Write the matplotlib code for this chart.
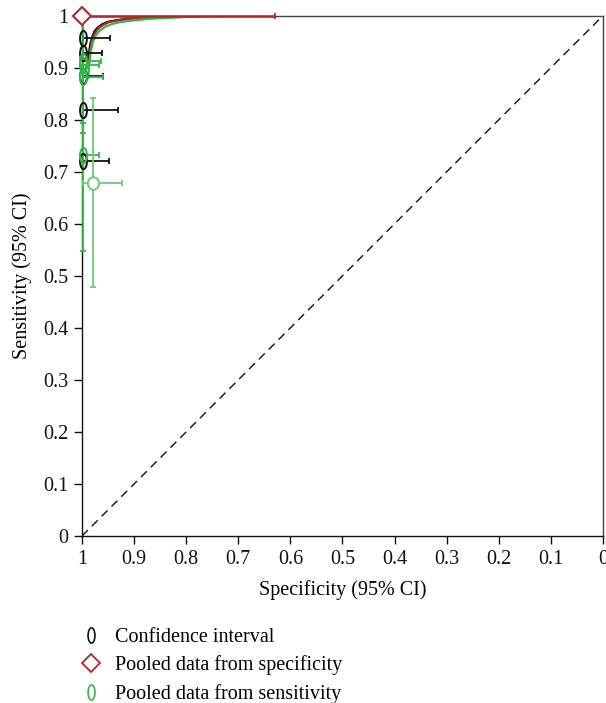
import numpy as np
import matplotlib
matplotlib.use("Agg")
import matplotlib.pyplot as plt
from matplotlib.path import Path
from matplotlib.transforms import Affine2D
from matplotlib.lines import Line2D

plt.rcParams['font.family'] = ['Liberation Serif', 'DejaVu Serif']

# ---- data ----
tick_vals = [1, 0.9, 0.8, 0.7, 0.6, 0.5, 0.4, 0.3, 0.2, 0.1, 0]
tick_labels = ["1", "0.9", "0.8", "0.7", "0.6", "0.5", "0.4", "0.3", "0.2", "0.1", "0"]

# study confidence intervals (black)
ci_spec = [0.999, 0.999, 0.999, 0.999, 0.999]
ci_sens = [0.958, 0.929, 0.885, 0.819, 0.721]
ci_spec_lo = [0.947, 0.962, 0.960, 0.931, 0.949]

# pooled data from sensitivity (green)
gs_spec = [0.999, 0.999, 0.999, 0.999]
gs_sens = [0.912, 0.905, 0.882, 0.732]
gs_spec_lo = [0.963, 0.968, 0.960, 0.967]
gs_sens_lo = [0.793, 0.774, 0.548, 0.732]
gs_sens_hi = [0.912, 0.905, 1.0, 0.732]

# large green point
big_spec, big_sens = 0.978, 0.679
big_spec_lo, big_spec_hi = 0.923, 0.999
big_sens_lo, big_sens_hi = 0.479, 0.841

# pooled data from specificity (red)
red_spec, red_sens = 1.0, 1.0
red_spec_lo = 0.63

# SROC curves
blk_curve_spec = [0.989, 0.987, 0.984, 0.980, 0.976, 0.970, 0.962, 0.951, 0.935, 0.915, 0.887, 0.850, 0.822, 0.780, 0.700]
blk_curve_sens = [0.902, 0.925, 0.946, 0.960, 0.970, 0.977, 0.983, 0.988, 0.991, 0.994, 0.996, 0.998, 0.999, 0.9995, 1.0]
red_curve_spec = [0.987, 0.985, 0.982, 0.978, 0.973, 0.967, 0.958, 0.947, 0.930, 0.910, 0.880, 0.845, 0.815, 0.770, 0.690]
red_curve_sens = [0.902, 0.925, 0.946, 0.960, 0.970, 0.977, 0.983, 0.988, 0.991, 0.994, 0.996, 0.998, 0.999, 0.9995, 1.0]
grn_curve_spec = [0.988, 0.986, 0.983, 0.979, 0.973, 0.965, 0.955, 0.942, 0.925, 0.900, 0.870, 0.830, 0.790, 0.740, 0.700]
grn_curve_sens = [0.880, 0.908, 0.932, 0.950, 0.963, 0.972, 0.979, 0.984, 0.988, 0.991, 0.994, 0.996, 0.998, 0.999, 1.0]

# ---- colors ----
BLACK = "#111111"
RED = "#b3262b"
GREEN = "#35b54a"
LGREEN = "#6ccb7a"
FS = 14.5

# ellipse marker
ell = Path(Affine2D().scale(0.45, 1.0).transform(Path.unit_circle().vertices), Path.unit_circle().codes)
ell_big = Path(Affine2D().scale(0.9, 1.0).transform(Path.unit_circle().vertices), Path.unit_circle().codes)

fig = plt.figure(figsize=(6.06, 7.03), dpi=100)
ax = fig.add_axes([0.1353, 0.2376, 0.8597, 0.7401])

ax.plot([1, 0], [0, 1], ls=(0, (6, 4)), color=BLACK, lw=1.0)

# curves
ax.plot(blk_curve_spec, blk_curve_sens, color=BLACK, lw=1.6, zorder=3)
ax.plot(red_curve_spec, red_curve_sens, color=RED, lw=1.6, zorder=3)
ax.plot(grn_curve_spec, grn_curve_sens, color=GREEN, lw=1.6, zorder=3)

# black CI (lower specificity lies to the right on the inverted axis)
ci_spec_a = np.array(ci_spec)
ax.errorbar(ci_spec, ci_sens, xerr=[ci_spec_a - np.array(ci_spec_lo), np.zeros(len(ci_spec))],
            fmt='none', ecolor=BLACK, elinewidth=1.3, capsize=2, capthick=1.3, zorder=4, clip_on=False)
ax.plot(ci_spec, ci_sens, ls='none', marker=ell, ms=11, mfc='none', mec=BLACK, mew=1.4, zorder=5, clip_on=False)

# green sensitivity
gs_spec_a = np.array(gs_spec)
gs_sens_a = np.array(gs_sens)
ax.errorbar(gs_spec, gs_sens,
            xerr=[gs_spec_a - np.array(gs_spec_lo), np.zeros(len(gs_spec))],
            yerr=[gs_sens_a - np.array(gs_sens_lo), np.array(gs_sens_hi) - gs_sens_a],
            fmt='none', ecolor=GREEN, elinewidth=1.3, capsize=2, capthick=1.3, zorder=4, clip_on=False)
ax.plot(gs_spec, gs_sens, ls='none', marker=ell, ms=11, mfc='none', mec=GREEN, mew=1.4, zorder=5, clip_on=False)

ax.errorbar([big_spec], [big_sens],
            xerr=[[big_spec - big_spec_lo], [big_spec_hi - big_spec]],
            yerr=[[big_sens - big_sens_lo], [big_sens_hi - big_sens]],
            fmt='none', ecolor=LGREEN, elinewidth=1.3, capsize=2, capthick=1.3, zorder=4)
ax.plot([big_spec], [big_sens], ls='none', marker=ell_big, ms=9, mfc='white', mec=LGREEN, mew=1.4, zorder=5)

# red pooled specificity
ax.errorbar([red_spec], [red_sens], xerr=[[red_spec - red_spec_lo], [0]],
            fmt='none', ecolor=RED, elinewidth=1.8, capsize=2, capthick=1.3, zorder=6, clip_on=False)
ax.plot([red_spec], [red_sens], ls='none', marker='D', ms=9.5, mfc='white', mec=RED, mew=1.5, zorder=7, clip_on=False)

ax.set_xlim(1, 0)
ax.set_ylim(0, 1)
ax.set_xticks(tick_vals)
ax.set_xticklabels(tick_labels)
ax.set_yticks(tick_vals)
ax.set_yticklabels(tick_labels)
ax.tick_params(direction='out', length=6, width=1, labelsize=FS, colors=BLACK, pad=4)
for s in ax.spines.values():
    s.set_color('#444444')
    s.set_linewidth(1.0)
ax.spines['left'].set_color(BLACK)
ax.spines['bottom'].set_color(BLACK)

ax.set_xlabel("Specificity (95% CI)", fontsize=FS, labelpad=8)
ax.set_ylabel("Sensitivity (95% CI)", fontsize=FS, labelpad=8)

handles = [
    Line2D([], [], ls='none', marker=ell, ms=11, mfc='none', mec=BLACK, mew=1.2),
    Line2D([], [], ls='none', marker='D', ms=9.5, mfc='white', mec=RED, mew=1.3),
    Line2D([], [], ls='none', marker=ell, ms=11, mfc='none', mec=GREEN, mew=1.2),
]
labels = ["Confidence interval", "Pooled data from specificity", "Pooled data from sensitivity"]
fig.legend(handles, labels, loc='upper left', bbox_to_anchor=(0.134, 0.107), frameon=False,
           fontsize=FS, handlelength=1.0, handletextpad=0.7, labelspacing=0.42, borderpad=0, borderaxespad=0)

fig.savefig("out.png", dpi=100)
